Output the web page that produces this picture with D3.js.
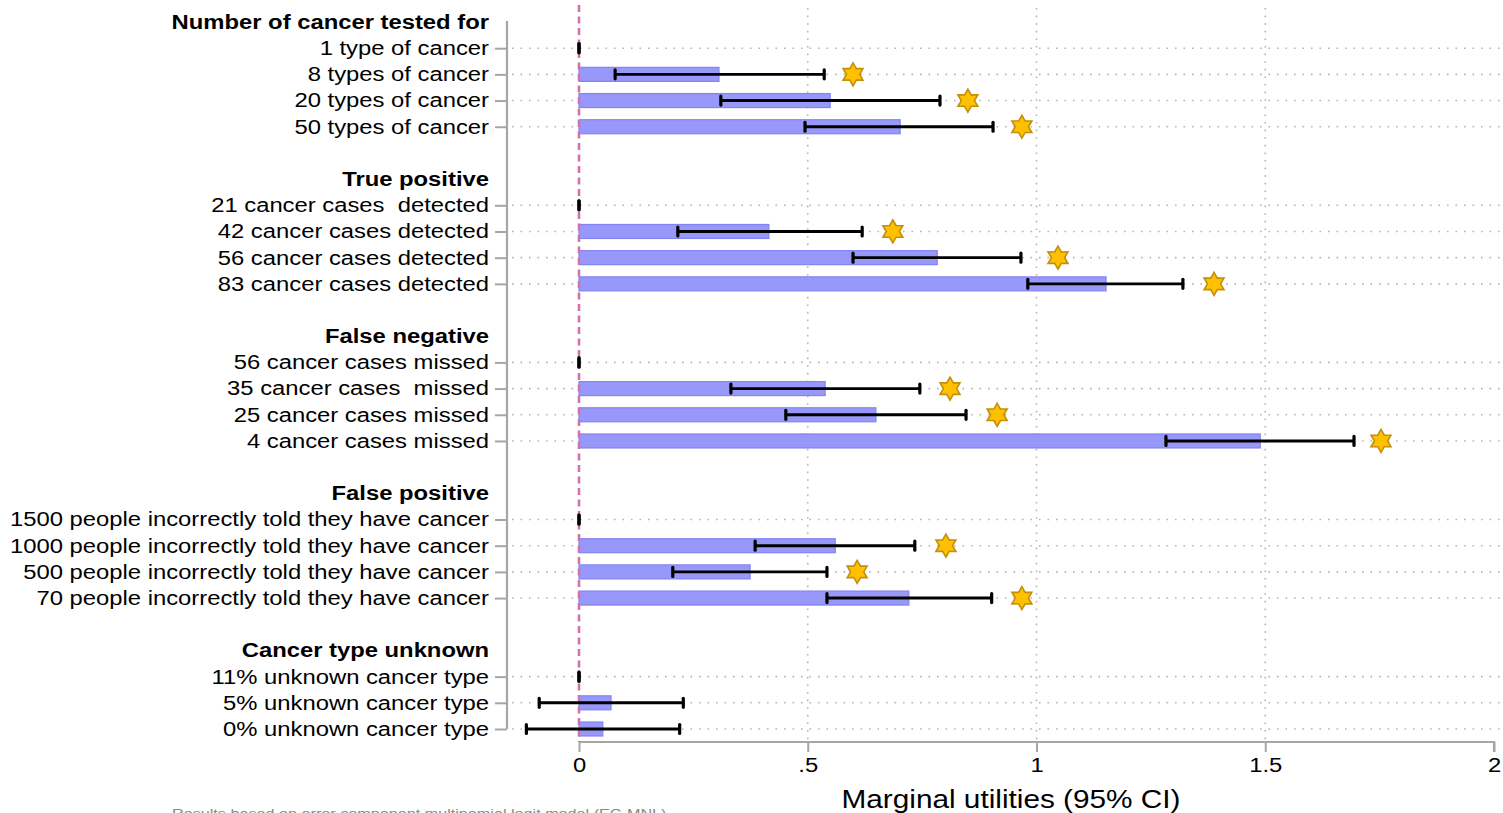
<!DOCTYPE html>
<html>
<head>
<meta charset="utf-8">
<script src="https://cdn.jsdelivr.net/npm/d3@7"></script>
<style>
  body { margin: 0; background: #fff; }
  svg { display: block; font-family: "Liberation Sans", Arial, sans-serif; }
  svg text { white-space: pre; }
</style>
</head>
<body>
<div id="chart"></div>
<script>
// attribute groups and their levels
var groups = ["Number of cancer tested for", "True positive", "False negative", "False positive", "Cancer type unknown"];
var levels = [
  ["1 type of cancer", "8 types of cancer", "20 types of cancer", "50 types of cancer"],
  ["21 cancer cases  detected", "42 cancer cases detected", "56 cancer cases detected", "83 cancer cases detected"],
  ["56 cancer cases missed", "35 cancer cases  missed", "25 cancer cases missed", "4 cancer cases missed"],
  ["1500 people incorrectly told they have cancer", "1000 people incorrectly told they have cancer", "500 people incorrectly told they have cancer", "70 people incorrectly told they have cancer"],
  ["11% unknown cancer type", "5% unknown cancer type", "0% unknown cancer type"]
];
// marginal utilities
var estimates = [
  [0, 0.306, 0.549, 0.702],
  [0, 0.415, 0.783, 1.152],
  [0, 0.538, 0.649, 1.489],
  [0, 0.560, 0.374, 0.721],
  [0, 0.070, 0.052]
];
var ciLow = [
  [0, 0.079, 0.310, 0.494],
  [0, 0.216, 0.599, 0.981],
  [0, 0.332, 0.452, 1.283],
  [0, 0.385, 0.205, 0.542],
  [0, -0.087, -0.115]
];
var ciHigh = [
  [0, 0.536, 0.789, 0.905],
  [0, 0.619, 0.966, 1.320],
  [0, 0.745, 0.846, 1.694],
  [0, 0.734, 0.542, 0.902],
  [0, 0.228, 0.220]
];
// significance markers (null = none)
var stars = [
  [null, 0.599, 0.850, 0.968],
  [null, 0.686, 1.047, 1.388],
  [null, 0.811, 0.914, 1.753],
  [null, 0.802, 0.608, 0.968],
  [null, null, null]
];
var xTicks = [0, 0.5, 1, 1.5, 2];
var xTickLabels = ["0", ".5", "1", "1.5", "2"];

var svgWidth = 1503, svgHeight = 813;
var stretch = 1.19; // the original text is drawn a bit wide

var svg = d3.select("#chart").append("svg")
  .attr("width", svgWidth)
  .attr("height", svgHeight);

// build row list: header, levels, spacer
var rows = [];
groups.forEach(function(g, gi) {
  rows.push({key: "h" + gi, type: "header", label: g});
  levels[gi].forEach(function(l, li) {
    rows.push({key: "r" + gi + "_" + li, type: "item", label: l,
      est: estimates[gi][li], lo: ciLow[gi][li], hi: ciHigh[gi][li], star: stars[gi][li]});
  });
  if (gi < groups.length - 1) rows.push({key: "s" + gi, type: "spacer"});
});
var items = rows.filter(function(d) { return d.type === "item"; });

var x = d3.scaleLinear().domain([0, 2]).range([579, 1494]);
var y = d3.scalePoint().domain(rows.map(function(d) { return d.key; })).range([22, 729]);

var gridColor = "#b4b4b4", axisColor = "#a6a6a6";

// horizontal dotted grid at each level
svg.append("g").selectAll("line").data(items).enter().append("line")
  .attr("x1", 512).attr("x2", svgWidth)
  .attr("y1", function(d) { return y(d.key); })
  .attr("y2", function(d) { return y(d.key); })
  .attr("stroke", gridColor).attr("stroke-width", 1.6)
  .attr("stroke-dasharray", "1.6,6.9");

// vertical dotted grid
svg.append("g").selectAll("line").data([0.5, 1, 1.5]).enter().append("line")
  .attr("x1", function(d) { return x(d); }).attr("x2", function(d) { return x(d); })
  .attr("y1", 8).attr("y2", 742)
  .attr("stroke", gridColor).attr("stroke-width", 1.6)
  .attr("stroke-dasharray", "1.6,6");

// left axis
var yAxis = d3.axisLeft(y)
  .tickValues(items.map(function(d) { return d.key; }))
  .tickSize(12).tickPadding(6)
  .tickFormat(function(k) { return rows.find(function(r) { return r.key === k; }).label; });
var ya = svg.append("g").attr("transform", "translate(507,0)").call(yAxis);
ya.select(".domain").attr("d", "M0," + 21 + "V" + y(items[items.length - 1].key))
  .attr("stroke", axisColor).attr("stroke-width", 2.2);
ya.selectAll(".tick line").attr("stroke", axisColor).attr("stroke-width", 2);
ya.selectAll(".tick text").attr("font-size", 20).attr("fill", "#000").attr("x", -18)
  .attr("class", "wide");

// group headers
svg.append("g").selectAll("text").data(rows.filter(function(d) { return d.type === "header"; }))
  .enter().append("text")
  .attr("class", "wide")
  .attr("x", 489).attr("y", function(d) { return y(d.key); })
  .attr("dy", "0.35em").attr("text-anchor", "end")
  .attr("font-size", 20).attr("font-weight", "bold")
  .text(function(d) { return d.label; });

// bottom axis
var xAxis = d3.axisBottom(x).tickValues(xTicks).tickSize(10).tickPadding(6)
  .tickFormat(function(d, i) { return xTickLabels[i]; });
var xa = svg.append("g").attr("transform", "translate(0,742)").call(xAxis);
xa.select(".domain").attr("d", "M" + x(0) + ",0H" + x(2) + "V10")
  .attr("stroke", axisColor).attr("stroke-width", 2.2);
xa.selectAll(".tick line").attr("stroke", axisColor).attr("stroke-width", 2);
xa.selectAll(".tick text").attr("font-size", 20).attr("fill", "#000").attr("class", "wide");

svg.append("text")
  .attr("class", "wide")
  .attr("x", 1011).attr("y", 808)
  .attr("text-anchor", "middle").attr("font-size", 25)
  .text("Marginal utilities (95% CI)");

// cut-off title at the very top
svg.append("text")
  .attr("class", "wide")
  .attr("x", 1116).attr("y", -5)
  .attr("text-anchor", "end").attr("font-size", 25)
  .text("Marginal utilities (95% CI)");

// note at the bottom
svg.append("text")
  .attr("class", "wide")
  .attr("x", 172).attr("y", 818)
  .attr("font-size", 13.6).attr("fill", "#888")
  .text("Results based on error component multinomial logit model (EC-MNL)");

svg.selectAll("text.wide").each(function() {
  var w = this.getComputedTextLength();
  d3.select(this).attr("textLength", w * stretch).attr("lengthAdjust", "spacingAndGlyphs");
});

// bars
svg.append("g").selectAll("rect").data(items.filter(function(d) { return d.est !== 0; }))
  .enter().append("rect")
  .attr("x", function(d) { return x(Math.min(0, d.est)); })
  .attr("y", function(d) { return y(d.key) - 7; })
  .attr("width", function(d) { return Math.abs(x(d.est) - x(0)); })
  .attr("height", 14)
  .attr("fill", "#9898fa")
  .attr("stroke", "#8383f2").attr("stroke-width", 1.2);

// reference line at zero
svg.append("line")
  .attr("x1", x(0)).attr("x2", x(0)).attr("y1", 5).attr("y2", 742)
  .attr("stroke", "#d272aa").attr("stroke-width", 2.6)
  .attr("stroke-dasharray", "7,4.5");

// error bars
var eb = svg.append("g").selectAll("g").data(items).enter().append("g");
eb.append("line")
  .attr("x1", function(d) { return x(d.lo); }).attr("x2", function(d) { return x(d.hi); })
  .attr("y1", function(d) { return y(d.key); }).attr("y2", function(d) { return y(d.key); })
  .attr("stroke", "#000").attr("stroke-width", 2.9);
eb.selectAll("line.cap").data(function(d) { return [[d.lo, d.key], [d.hi, d.key]]; })
  .enter().append("line").attr("class", "cap")
  .attr("x1", function(d) { return x(d[0]); }).attr("x2", function(d) { return x(d[0]); })
  .attr("y1", function(d) { return y(d[1]) - 4.5; }).attr("y2", function(d) { return y(d[1]) + 4.5; })
  .attr("stroke", "#000").attr("stroke-width", 3.2).attr("stroke-linecap", "round");

// hexagram markers
var starPath = d3.lineRadial().curve(d3.curveLinearClosed)(d3.range(12).map(function(i) {
  return [i * Math.PI / 6, i % 2 === 0 ? 11.5 : 6.6];
}));
svg.append("g").selectAll("path").data(items.filter(function(d) { return d.star !== null; }))
  .enter().append("path")
  .attr("d", starPath)
  .attr("transform", function(d) { return "translate(" + x(d.star) + "," + y(d.key) + ")"; })
  .attr("fill", "#ffc000").attr("stroke", "#c38f0c").attr("stroke-width", 1.6);
</script>
</body>
</html>
